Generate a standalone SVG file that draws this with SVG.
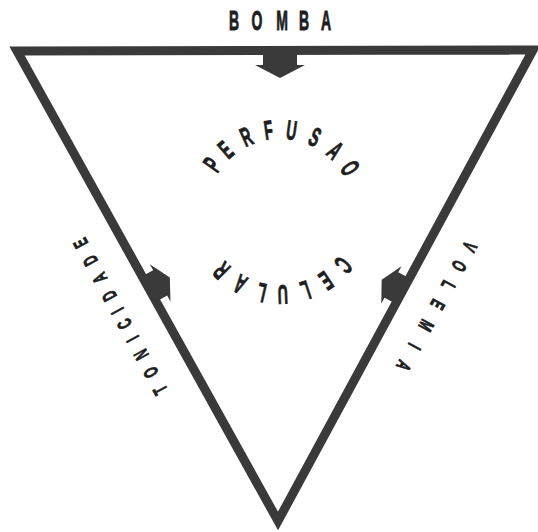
<svg xmlns="http://www.w3.org/2000/svg" width="538" height="532" viewBox="0 0 538 532">
<style>
.t{font-family:"Liberation Sans",Arial,sans-serif;font-weight:bold;fill:#1e1e1e;stroke:#1e1e1e;stroke-width:0.9;text-anchor:middle}
.b{font-size:28px}.c{font-size:27px}.e{font-size:20px}
.edge{fill:none;stroke:#3a3a3a;stroke-width:9;stroke-linejoin:miter}
.arr{fill:#3a3a3a}
</style>
<defs>
<path id="arrow" d="M -17,0 L 17,0 L 17,15 L 25,15 L 0,28 L -25,15 L -17,15 Z"/>
</defs>
<rect width="538" height="532" fill="#ffffff"/>
<g id="connectors">
<polygon class="edge" points="17,51 533,50 278,521"/>
</g>
<g id="arrows">
<use id="arrow-bomba" href="#arrow" class="arr" transform="translate(280,50)"/>
<use id="arrow-tonicidade" href="#arrow" class="arr" transform="translate(149,289) rotate(-119) scale(0.85)"/>
<use id="arrow-volemia" href="#arrow" class="arr" transform="translate(402.6,291) rotate(118.4) scale(0.85)"/>
</g>
<g id="bomba">
<text class="t b" transform="scale(0.5,1)" x="468 514 564 608 652" y="30">BOMBA</text>
</g>
<g id="tonicidade">
<text class="t e" transform="translate(160,390) rotate(-118.5) scale(0.58,1)" x="0 34.5 69 100 129.3 155.2 184.5 219 253.4 288" y="7.2">TONICIDADE</text>
</g>
<g id="volemia">
<text class="t e" transform="translate(470,247) rotate(119) scale(0.58,1)" x="0 37.9 75.9 113.8 155.2 196.6 234.5" y="7.2">VOLEMIA</text>
</g>
<g id="perfusao-celular">
<text class="t c" transform="translate(212,164.4) rotate(-55) scale(0.52,1)" y="9.7">P</text>
<text class="t c" transform="translate(225.5,149.4) rotate(-41) scale(0.52,1)" y="9.7">E</text>
<text class="t c" transform="translate(246.2,136.2) rotate(-24) scale(0.52,1)" y="9.7">R</text>
<text class="t c" transform="translate(268.4,129.8) rotate(-8) scale(0.52,1)" y="9.7">F</text>
<text class="t c" transform="translate(291.6,129.8) rotate(8) scale(0.52,1)" y="9.7">U</text>
<text class="t c" transform="translate(315.1,136.8) rotate(25) scale(0.52,1)" y="9.7">S</text>
<text class="t c" transform="translate(335.5,150.3) rotate(42) scale(0.52,1)" y="9.7">A</text>
<text class="t c" transform="translate(350.4,168) rotate(58) scale(0.52,1)" y="9.7">O</text>
<text class="t c" transform="translate(343.6,265.4) rotate(130) scale(0.52,1)" y="9.7">C</text>
<text class="t c" transform="translate(326.4,280.8) rotate(146) scale(0.52,1)" y="9.7">E</text>
<text class="t c" transform="translate(305.6,290.9) rotate(162) scale(0.52,1)" y="9.7">L</text>
<text class="t c" transform="translate(282.9,295) rotate(178) scale(0.52,1)" y="9.7">U</text>
<text class="t c" transform="translate(261.3,292.9) rotate(193) scale(0.52,1)" y="9.7">L</text>
<text class="t c" transform="translate(239.8,284.6) rotate(209) scale(0.52,1)" y="9.7">A</text>
<text class="t c" transform="translate(221.3,270.7) rotate(225) scale(0.52,1)" y="9.7">R</text>
</g>
</svg>
